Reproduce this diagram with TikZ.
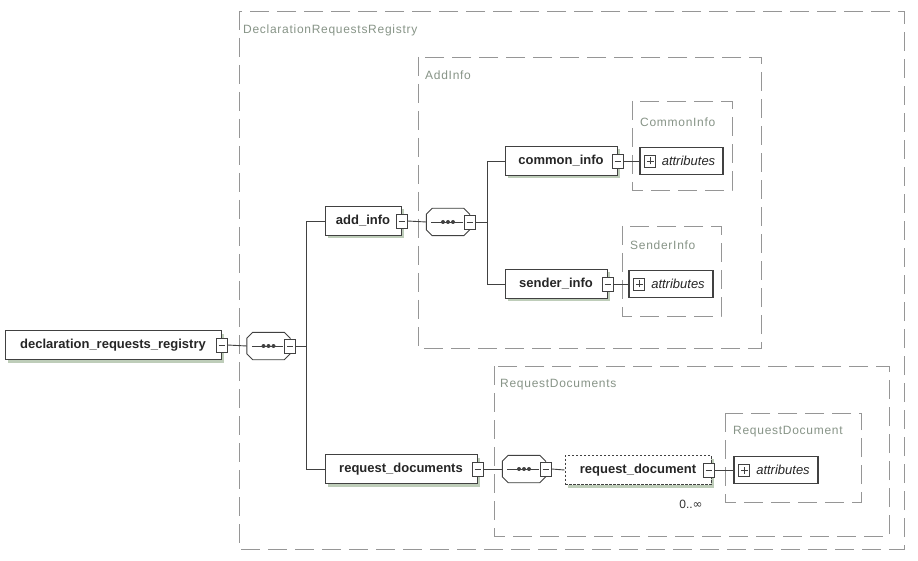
\documentclass[tikz,border=0pt]{standalone}
\usepackage{fontspec}
\setmainfont{Liberation Sans}
\newfontfamily\lblfont[LetterSpace=6]{Liberation Sans}
\newfontfamily\symfont{DejaVu Sans}
\usetikzlibrary{shadows}
\definecolor{boxgray}{RGB}{150,150,150}
\definecolor{lblgray}{RGB}{135,148,135}
\definecolor{shadowc}{RGB}{190,205,185}
\definecolor{edgec}{RGB}{65,65,65}
\tikzset{
  grp/.style={draw=boxgray, line width=0.9pt, dash pattern=on 19pt off 8pt},
  grplbl/.style={anchor=west, text=lblgray, font=\lblfont\fontsize{12}{14}\selectfont, inner sep=0},
  elem/.style={draw=edgec, fill=white, line width=1pt, inner sep=0, minimum height=29pt,
    font=\bfseries\fontsize{13}{15}\selectfont, text=black!85,
    drop shadow={shadow xshift=3pt, shadow yshift=-3pt, fill=shadowc, opacity=1}},
  optelem/.style={elem, dash pattern=on 2.5pt off 1.5pt},
  minusbox/.style={draw=edgec, fill=white, line width=0.9pt, minimum width=11pt, minimum height=14pt, inner sep=0,
    path picture={\draw[edgec, line width=0.9pt] ([xshift=-3pt]path picture bounding box.center) -- ([xshift=3pt]path picture bounding box.center);}},
  plusbox/.style={draw=edgec, fill=white, line width=0.9pt, minimum width=11pt, minimum height=12pt, inner sep=0,
    path picture={\draw[edgec, line width=0.9pt] ([xshift=-3.5pt]path picture bounding box.center) -- ([xshift=3.5pt]path picture bounding box.center)
      ([yshift=-3.5pt]path picture bounding box.center) -- ([yshift=3.5pt]path picture bounding box.center);}},
  attr/.style={draw=edgec, line width=1.2pt, fill=white, minimum height=27pt, inner sep=0,
    font=\itshape\fontsize{13}{15}\selectfont, text=black!85},
  conn/.style={draw=edgec, line width=0.9pt},
  seqframe/.style={inner sep=0, minimum width=43pt, minimum height=27pt},
}
\newcommand\seqoct[1]{([xshift=6pt]#1.north west) -- ([xshift=-6pt]#1.north east) -- ([yshift=-6pt]#1.north east) -- ([yshift=6pt]#1.south east) -- ([xshift=-6pt]#1.south east) -- ([xshift=6pt]#1.south west) -- ([yshift=6pt]#1.south west) -- ([yshift=-6pt]#1.north west) -- cycle}
\newcommand\seqnode[3]{%
  \node[seqframe] (#1) at (#2,#3) {};
  \fill[shadowc, shift={(3pt,-3pt)}] \seqoct{#1};
  \draw[edgec, fill=white, line width=0.9pt] \seqoct{#1};
  \draw[edgec, line width=0.9pt] ([xshift=5pt]#1.west) -- ([xshift=-7pt]#1.east);
  \foreach \dx in {-5,0,5} \fill[edgec] ([xshift=\dx pt]#1.center) circle (2pt);
}
\begin{document}
\begin{tikzpicture}[x=1pt, y=-1pt]
\useasboundingbox (0,0) rectangle (918,561);
\fill[white] (0,0) rectangle (918,561);

% group frames
\draw[grp] (239,11) rectangle (904,549);
\node[grplbl] (lDRR) at (243,30) {DeclarationRequestsRegistry};
\draw[grp] (418,57) rectangle (761,348);
\node[grplbl] (lAI) at (425,75) {AddInfo};
\draw[grp] (632,101) rectangle (732,190);
\node[grplbl] (lCI) at (640,122) {CommonInfo};
\draw[grp] (622,226) rectangle (721,316);
\node[grplbl] (lSI) at (630,245) {SenderInfo};
\draw[grp] (494,366) rectangle (889,536);
\node[grplbl] (lRDs) at (500,385) {RequestDocuments};
\draw[grp] (725,413) rectangle (861,502);
\node[grplbl] (lRD) at (733,432) {RequestDocument};

% nodes
\node[elem, minimum width=216pt] (drr) at (113,345) {declaration\_requests\_registry};
\node[minusbox] (mdrr) at (drr.east) {};
\seqnode{s1}{268.5}{346}
\node[minusbox] (ms1) at (s1.east) {};

\node[elem, minimum width=76pt] (ai) at (363,221) {add\_info};
\node[minusbox] (mai) at (ai.east) {};
\seqnode{s2}{448}{222}
\node[minusbox] (ms2) at (s2.east) {};

\node[elem, minimum width=112pt] (ci) at (561,161) {common\_info};
\node[minusbox] (mci) at (ci.east) {};
\node[attr, minimum width=83pt] (aci) at (681.5,161) {\hspace*{14pt}attributes};
\node[plusbox] (pci) at ([xshift=11pt]aci.west) {};

\node[elem, minimum width=102pt] (si) at (556,284) {sender\_info};
\node[minusbox] (msi) at (si.east) {};
\node[attr, minimum width=84pt] (asi) at (671,284) {\hspace*{14pt}attributes};
\node[plusbox] (psi) at ([xshift=11pt]asi.west) {};

\node[elem, minimum width=152pt] (rds) at (401,469) {request\_documents};
\node[minusbox] (mrds) at (rds.east) {};
\seqnode{s3}{524}{469}
\node[minusbox] (ms3) at (s3.east) {};

\node[optelem, minimum width=146pt] (rd) at (638,470) {request\_document};
\node[minusbox] (mrd) at ([xshift=-3pt]rd.east) {};
\node[attr, minimum width=84pt] (ard) at (776,470) {\hspace*{14pt}attributes};
\node[plusbox] (prd) at ([xshift=11pt]ard.west) {};
\node[font=\fontsize{12}{14}\selectfont, text=black!80, inner sep=0] (card) at (691,504) {0..\symfont ∞};

% connectors
\draw[conn] (mdrr.east) -- (s1.west);
\draw[conn] (ms1.east) -- ++(10,0) coordinate (b1);
\draw[conn] (ai.west) -- (ai.west -| b1) -- (rds.west -| b1) -- (rds.west);
\draw[conn] (mai.east) -- (s2.west);
\draw[conn] (ms2.east) -- ++(12,0) coordinate (b2);
\draw[conn] (ci.west) -- (ci.west -| b2) -- (si.west -| b2) -- (si.west);
\draw[conn] (mci.east) -- (aci.west);
\draw[conn] (msi.east) -- (asi.west);
\draw[conn] (mrds.east) -- (s3.west);
\draw[conn] (ms3.east) -- (rd.west);
\draw[conn] (mrd.east) -- (ard.west);
\end{tikzpicture}
\end{document}
